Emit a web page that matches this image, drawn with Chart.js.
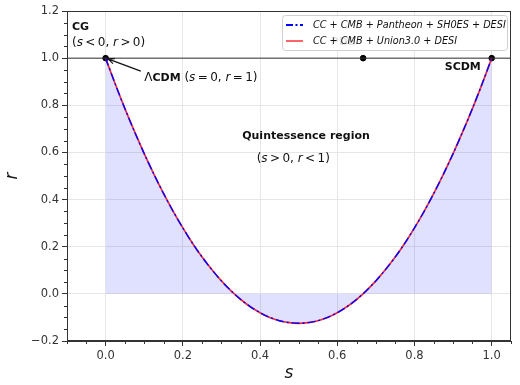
<!DOCTYPE html>
<html>
<head>
<meta charset="utf-8">
<script src="https://cdn.jsdelivr.net/npm/chart.js@4.4.1/dist/chart.umd.min.js"></script>
<style>
  html, body { margin: 0; background: #fff; }
</style>
</head>
<body>
<canvas id="grafico" width="520" height="385"></canvas>
<script>
// valores (s, r)
const sVals = [0, 0.025, 0.05, 0.075, 0.1, 0.125, 0.15, 0.175, 0.2, 0.225, 0.25, 0.275, 0.3, 0.325, 0.35, 0.375, 0.4, 0.425, 0.45, 0.475, 0.5,
  0.525, 0.55, 0.575, 0.6, 0.625, 0.65, 0.675, 0.7, 0.725, 0.75, 0.775, 0.8, 0.825, 0.85, 0.875, 0.9, 0.925, 0.95, 0.975, 1.0];
const rPantheon = [1.0, 0.89, 0.786, 0.688, 0.595, 0.508, 0.426, 0.35, 0.28, 0.215, 0.156, 0.103, 0.055, 0.013, -0.024, -0.055, -0.08, -0.1, -0.114, -0.122, -0.125,
  -0.122, -0.114, -0.1, -0.08, -0.055, -0.024, 0.013, 0.055, 0.103, 0.156, 0.215, 0.28, 0.35, 0.426, 0.508, 0.595, 0.688, 0.786, 0.89, 1.0];
const rUnion = [1.0, 0.89, 0.786, 0.688, 0.595, 0.508, 0.426, 0.35, 0.28, 0.215, 0.156, 0.103, 0.055, 0.013, -0.024, -0.055, -0.08, -0.1, -0.114, -0.122, -0.125,
  -0.122, -0.114, -0.1, -0.08, -0.055, -0.024, 0.013, 0.055, 0.103, 0.156, 0.215, 0.28, 0.35, 0.426, 0.508, 0.595, 0.688, 0.786, 0.89, 1.0];

// puntos fijos (LCDM, PDE, SCDM) y linea r = 1
const fixedS = [0, 0.667, 1];
const fixedR = [1, 1, 1];
const lineS = [-0.1, 1.05];
const lineR = [1, 1];

const xTicks = [0, 0.2, 0.4, 0.6, 0.8, 1.0];
const yTicks = [-0.2, 0, 0.2, 0.4, 0.6, 0.8, 1.0, 1.2];
const legendLabels = ['CC + CMB + Pantheon + SH0ES + DESI', 'CC + CMB + Union3.0 + DESI'];

const toXY = (xs, ys) => xs.map((x, i) => ({ x: x, y: ys[i] }));
const fmt = v => v.toFixed(1).replace('-', '\u2212');

const F = 'DejaVu Sans';
const fontReg = s => s + 'px "' + F + '"';
const fontBold = s => 'bold ' + s + 'px "' + F + '"';
const fontIt = s => 'italic ' + s + 'px "' + F + '"';

// texto con partes de distinta fuente
function drawRuns(ctx, x, y, parts, align) {
    let total = 0;
    parts.forEach(p => { ctx.font = p[1]; total += ctx.measureText(p[0]).width; });
    let cx = align === 'center' ? x - total / 2 : x;
    ctx.textAlign = 'left';
    ctx.textBaseline = 'middle';
    parts.forEach(p => {
        ctx.font = p[1];
        ctx.fillText(p[0], cx, y);
        cx += ctx.measureText(p[0]).width;
    });
}

function mathPair(a, op1, b, op2, size) {
    const r = fontReg(size), it = fontIt(size);
    return [['(', r], [a, it], [op1, r], [b, it], [op2, r]];
}

const decor = {
    id: 'decor',
    afterDraw(chart) {
        const ctx = chart.ctx;
        const xs = chart.scales.x, ys = chart.scales.y;
        const a = chart.chartArea;
        const px = v => xs.getPixelForValue(v);
        const py = v => ys.getPixelForValue(v);
        ctx.save();

        // marco completo
        ctx.strokeStyle = '#333';
        ctx.lineWidth = 1;
        ctx.strokeRect(a.left + 0.5, a.top + 0.5, a.right - a.left - 1, a.bottom - a.top - 1);

        // ticks menores
        ctx.beginPath();
        for (let i = -2; i <= 21; i++) {
            if (i % 4 === 0) continue;
            const x = Math.round(px(i * 0.05)) + 0.5;
            ctx.moveTo(x, a.bottom); ctx.lineTo(x, a.bottom + 3);
        }
        for (let i = -4; i <= 24; i++) {
            if (i % 4 === 0) continue;
            const y = Math.round(py(i * 0.05)) + 0.5;
            ctx.moveTo(a.left, y); ctx.lineTo(a.left - 3, y);
        }
        ctx.stroke();

        // titulos de ejes
        ctx.fillStyle = '#111';
        ctx.font = fontIt(17);
        ctx.textAlign = 'center';
        ctx.textBaseline = 'middle';
        ctx.fillText('s', (a.left + a.right) / 2, 374);
        ctx.save();
        ctx.translate(13, (a.top + a.bottom) / 2);
        ctx.rotate(-Math.PI / 2);
        ctx.fillText('r', 0, 0);
        ctx.restore();

        // textos
        ctx.fillStyle = '#111';
        ctx.font = fontBold(11);
        ctx.textAlign = 'left';
        ctx.textBaseline = 'middle';
        ctx.fillText('CG', px(-0.087), py(1.133));
        drawRuns(ctx, px(-0.087), py(1.064), mathPair('s', '\u2009<\u20090, ', 'r', '\u2009>\u20090)', 12), 'left');

        drawRuns(ctx, px(0.1), py(0.917), [['\u039b', fontReg(12)], ['CDM ', fontBold(11)]]
            .concat(mathPair('s', '\u2009=\u20090, ', 'r', '\u2009=\u20091)', 12)), 'left');

        ctx.font = fontBold(11);
        ctx.textAlign = 'center';
        ctx.fillText('Quintessence region', px(0.519), py(0.67));
        drawRuns(ctx, px(0.486), py(0.572), mathPair('s', '\u2009>\u20090, ', 'r', '\u2009<\u20091)', 12), 'center');

        ctx.font = fontBold(11);
        ctx.textAlign = 'center';
        ctx.fillText('SCDM', px(0.925), py(0.962));

        // flecha hacia LCDM
        const x0 = px(0.091), y0 = py(0.945), x1 = px(0.006), y1 = py(0.997);
        ctx.strokeStyle = '#111';
        ctx.lineWidth = 1.2;
        ctx.beginPath();
        ctx.moveTo(x0, y0); ctx.lineTo(x1, y1);
        const ang = Math.atan2(y1 - y0, x1 - x0);
        ctx.moveTo(x1 - 7 * Math.cos(ang - 0.4), y1 - 7 * Math.sin(ang - 0.4));
        ctx.lineTo(x1, y1);
        ctx.lineTo(x1 - 7 * Math.cos(ang + 0.4), y1 - 7 * Math.sin(ang + 0.4));
        ctx.stroke();

        // etiqueta PDE (queda tras la leyenda)
        ctx.fillStyle = '#222';
        ctx.font = fontBold(11);
        ctx.fillText('PDE', px(0.615), py(1.07));

        // leyenda
        const lx = 282, ly = 15, lw = 225, lh = 35;
        ctx.fillStyle = 'rgba(255,255,255,0.88)';
        ctx.strokeStyle = '#d0d0d0';
        ctx.lineWidth = 1;
        ctx.beginPath();
        ctx.roundRect(lx + 0.5, ly + 0.5, lw, lh, 3);
        ctx.fill();
        ctx.stroke();

        const rows = [ly + 10, ly + 26];
        ctx.lineWidth = 2;
        ctx.strokeStyle = '#0000ff';
        ctx.setLineDash([7, 2.5, 2, 2.5]);
        ctx.beginPath(); ctx.moveTo(286, rows[0]); ctx.lineTo(303, rows[0]); ctx.stroke();
        ctx.setLineDash([]);
        ctx.lineWidth = 1.5;
        ctx.strokeStyle = '#ff3030';
        ctx.beginPath(); ctx.moveTo(286, rows[1]); ctx.lineTo(303, rows[1]); ctx.stroke();

        ctx.fillStyle = '#111';
        ctx.font = fontIt(9.7);
        ctx.textAlign = 'left';
        ctx.fillText(legendLabels[0], 313, rows[0]);
        ctx.fillText(legendLabels[1], 313, rows[1]);

        ctx.restore();
    }
};

const tickFont = { family: F, size: 11.5 };

new Chart(document.getElementById('grafico'), {
    type: 'scatter',
    data: {
        datasets: [
            {
                label: 'r1',
                data: toXY(lineS, lineR),
                showLine: true,
                borderColor: '#333',
                borderWidth: 1,
                pointRadius: 0
            },
            {
                label: legendLabels[0],
                data: toXY(sVals, rPantheon),
                showLine: true,
                borderColor: '#0000ff',
                borderWidth: 1.4,
                borderDash: [8, 3, 2, 3],
                pointRadius: 0,
                tension: 0.3,
                fill: { target: 'origin', above: 'rgba(0,0,255,0.12)', below: 'rgba(0,0,255,0.12)' }
            },
            {
                label: legendLabels[1],
                data: toXY(sVals, rUnion),
                showLine: true,
                borderColor: 'rgba(255,25,25,0.9)',
                borderWidth: 1.7,
                pointRadius: 0,
                tension: 0.3
            },
            {
                label: 'puntos',
                data: toXY(fixedS, fixedR),
                showLine: false,
                pointRadius: 2.8,
                pointBackgroundColor: '#000',
                pointBorderColor: '#000'
            }
        ]
    },
    options: {
        responsive: false,
        animation: false,
        layout: { padding: { top: 11, right: 9, left: 0, bottom: 0 } },
        plugins: {
            legend: { display: false },
            tooltip: { enabled: false }
        },
        scales: {
            x: {
                type: 'linear',
                min: -0.1,
                max: 1.05,
                afterBuildTicks: scale => { scale.ticks = xTicks.map(v => ({ value: v })); },
                afterFit: scale => { scale.height = 44; },
                ticks: { callback: v => fmt(v), font: tickFont, color: '#333', padding: 3, maxRotation: 0 },
                grid: { color: '#e6e6e6', tickColor: '#333', tickLength: 5 },
                border: { color: '#333' }
            },
            y: {
                type: 'linear',
                min: -0.2,
                max: 1.2,
                afterBuildTicks: scale => { scale.ticks = yTicks.map(v => ({ value: v })); },
                afterFit: scale => { scale.width = 67; },
                ticks: { callback: v => fmt(v), font: tickFont, color: '#333', padding: 3 },
                grid: { color: '#e6e6e6', tickColor: '#333', tickLength: 5 },
                border: { color: '#333' }
            }
        }
    },
    plugins: [decor]
});
</script>
</body>
</html>
